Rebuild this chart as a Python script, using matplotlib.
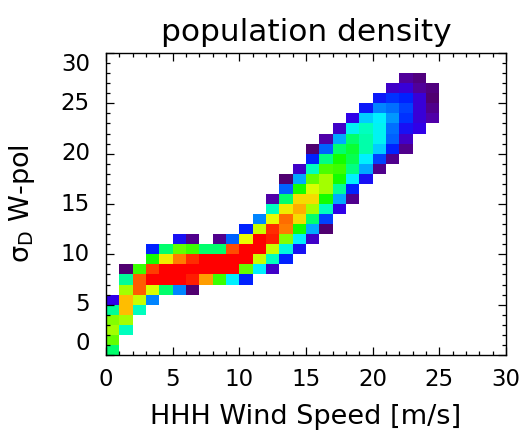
import numpy as np
import matplotlib
matplotlib.use("Agg")
import matplotlib.pyplot as plt
from matplotlib.colors import LinearSegmentedColormap

# ---- data: density level per 1x1 bin (row = sigma bin, starting column = wind-speed bin)
row_first_col = [0, 0, 0, 0, 0, 0, 1, 1, 1, 3, 3, 5, 10, 11, 12, 12, 13, 13, 14,
                 15, 15, 16, 17, 18, 19, 20, 21, 22]
row_levels = [
    [8],
    [10],
    [11, 7],
    [10.5, 11],
    [7.5, 13, 7],
    [2, 13, 11.5, 4.5],
    [11, 14.5, 11.8, 8, 4.5, 0],
    [7.5, 14.5, 16, 16, 16, 15.5, 13.5, 9.5, 6, 3],
    [0, 9.5, 15, 16, 16, 16, 16, 16, 16, 10, 6, 1.5],
    [9, 12.3, 14, 15.3, 16, 16, 16, 16, 11.5, 7, 3],
    [3, 8, 10, 9.5, 8, 8, 14.8, 16, 16, 11.5, 6.5, 2.5],
    [2.5, 0.5, np.nan, 0.5, 4, 12, 16, 15.5, 10.5, 6, 1.5],
    [3, 11.5, 15.3, 14, 9, 5, 0],
    [4.5, 12, 14.3, 12.5, 8, 3.5],
    [7, 12.3, 13.3, 11, 7, 2],
    [1, 8, 12.5, 12.5, 9, 5, 0.5],
    [4, 9, 11.8, 11, 7.5, 3],
    [0, 5, 10, 11, 9, 6, 2.5],
    [1.5, 7, 9.7, 9.5, 7.8, 5, 0.5],
    [3, 7.8, 9, 8.3, 6, 3.5, 0.5],
    [0, 4, 8, 8.5, 7.3, 5.5, 3, 0.5],
    [1, 5, 8, 7.3, 6.2, 4, 1.5],
    [1.5, 6.2, 7, 6.2, 4.2, 2.5, 2],
    [2, 5.5, 6, 4.8, 3.3, 1.8, 1],
    [2.8, 4.5, 4.2, 3.5, 1.8, 0.5],
    [2.8, 3.3, 3, 1.8, 0],
    [1.5, 1.8, 0.8, 0.3],
    [0.8, 0.3],
]
x_edges = np.arange(0, 31, 1)
y_edges = np.arange(0, 31, 1)
x_ticks = [0, 5, 10, 15, 20, 25, 30]
y_ticks = [0, 5, 10, 15, 20, 25, 30]

# ---- grid
Z = np.full((len(y_edges) - 1, len(x_edges) - 1), np.nan)
for j, (c0, vals) in enumerate(zip(row_first_col, row_levels)):
    for k, v in enumerate(vals):
        Z[j, c0 + k] = v
Z = np.ma.masked_invalid(Z)

anchors = ["#500070", "#5000a8", "#3000e8", "#0020ff", "#0060ff", "#00a8ff",
           "#00f0ff", "#00ffc0", "#00ff70", "#10ff00", "#60ff00", "#a0ff00",
           "#e8ff00", "#ffc000", "#ff8000", "#ff4000", "#ff0000"]
cmap = LinearSegmentedColormap.from_list("idl_rainbow", anchors, N=256)

fig = plt.figure(figsize=(5.25, 4.34), dpi=100)
ax = fig.add_axes([106 / 525, (434 - 355) / 434, 400 / 525, 302 / 434])
ax.pcolormesh(x_edges, y_edges, Z, cmap=cmap, vmin=0, vmax=16,
              shading="flat", edgecolors="none")

ax.set_xlim(0, 30)
ax.set_ylim(0, 30)
ax.set_xticks(x_ticks)
ax.set_yticks(y_ticks)
ax.set_xticks(np.arange(0, 31, 1), minor=True)
ax.set_yticks(np.arange(0, 31, 1), minor=True)
ax.tick_params(which="both", direction="in", top=True, right=True,
               color="black", width=0.9)
ax.tick_params(which="major", length=6)
ax.tick_params(which="minor", length=3)
ax.tick_params(axis="x", labelsize=16.5, pad=9)
ax.set_yticklabels([])
for s in ax.spines.values():
    s.set_linewidth(1.0)
    s.set_color("black")

# y tick labels (IDL style: end labels pulled inside the axis range)
ytr = ax.get_yaxis_transform()
for v in y_ticks:
    va = "center"
    if v == y_ticks[0]:
        va = "bottom"
    elif v == y_ticks[-1]:
        va = "top"
    ax.text(-0.04, v, str(v), transform=ytr, ha="right", va=va, fontsize=16.5)

ax.set_title("population density", fontsize=22.5, pad=9)
ax.set_xlabel("HHH Wind Speed [m/s]", fontsize=19.5)
ax.xaxis.set_label_coords(0.5, -0.163)
ax.set_ylabel("σ$_\\mathrm{D}$ W-pol", fontsize=19.5)
ax.yaxis.set_label_coords(-0.172, 0.5)

fig.savefig("out.png", dpi=100)
